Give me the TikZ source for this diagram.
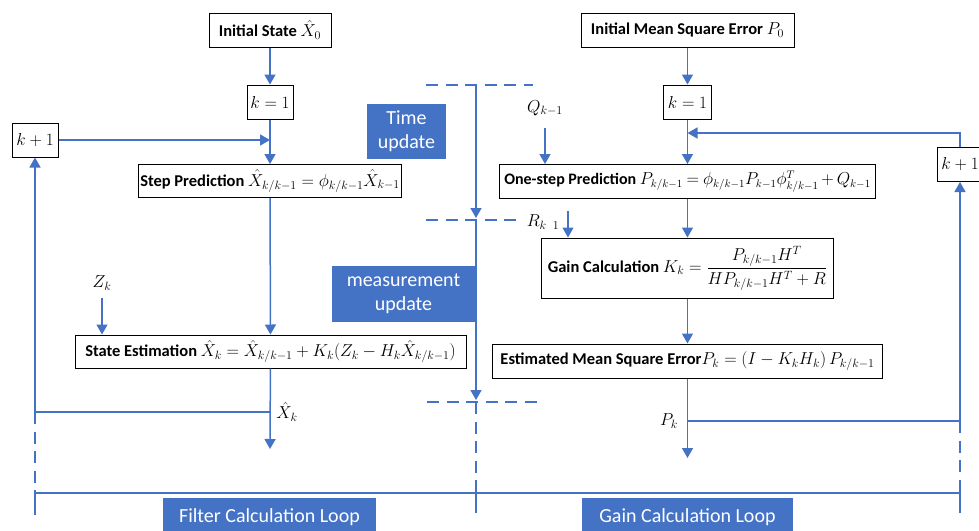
\documentclass[tikz,border=0pt]{standalone}
\usepackage{fontspec}
\newfontfamily\calfont{Carlito}
\usetikzlibrary{arrows.meta}
\definecolor{lblue}{HTML}{4472C4}
\newcommand\mth[2][17]{{\fontsize{#1}{#1}\selectfont$#2$}}
\tikzset{
  box/.style={draw=black, line width=1pt, fill=white, inner sep=0pt, minimum height=34pt,
    font=\calfont\bfseries\fontsize{16.5}{19}\selectfont},
  blueb/.style={fill=lblue, text=white, inner sep=0pt, align=center,
    font=\calfont\fontsize{20}{24}\selectfont},
  lab/.style={inner sep=0pt, font=\fontsize{17}{19}\selectfont},
  conn/.style={draw=lblue, line width=1.5pt},
  arr/.style={conn, -{Triangle[width=11pt,length=10pt]}},
  dsh/.style={conn, dash pattern=on 12pt off 7.5pt},
}
\begin{document}
\begin{tikzpicture}[x=1pt,y=-1pt]
\useasboundingbox (0,0) rectangle (979,530);
% coordinates
\coordinate (jL) at (270,140);
\coordinate (jX) at (270,412);
\coordinate (cL) at (35,412);
\coordinate (endL) at (270,449);
\coordinate (zs) at (102,298);
\coordinate (jR) at (687.5,133);
\coordinate (jP) at (687.5,421);
\coordinate (cR) at (960,421);
\coordinate (endR) at (687.5,458);
\coordinate (qs) at (545,128);
\coordinate (rs) at (568,211);
\coordinate (bl) at (35,493);
\coordinate (bm) at (476,493);
\coordinate (br) at (960,493);
\coordinate (blt) at (35,515);
\coordinate (bmt) at (476,483);
\coordinate (bmb) at (476,513);
\coordinate (brt) at (960,483);
\coordinate (brb) at (960,513);
\coordinate (m1) at (476,85);
\coordinate (m1a) at (426,85);
\coordinate (m1b) at (533,85);
\coordinate (m2) at (476,220);
\coordinate (m2t) at (476,218);
\coordinate (m2a) at (426,220);
\coordinate (m2b) at (520,220);
\coordinate (m3) at (476,402);
\coordinate (m3t) at (476,400);
\coordinate (m3a) at (427,402);
\coordinate (m3b) at (540,402);

% blue label boxes
\node[blueb, minimum width=79pt, minimum height=55pt] (tu) at (406.5,131.5) {Time\\update};
\node[blueb, minimum width=144pt, minimum height=56pt] (mu) at (403.5,294) {measurement\\update};
\node[blueb, minimum width=213pt, minimum height=38pt] (fl) at (269.5,517) {Filter Calculation Loop};
\node[blueb, minimum width=211pt, minimum height=38pt] (gl) at (687.5,517) {Gain Calculation Loop};

% left column
\node[box, minimum width=122pt] (init) at (270,30) {Initial State \mth[18]{\hat{X}_0}};
\node[box, minimum width=46pt] (k1L) at (270,102) {\mth[17]{k=1}};
\node[box, minimum width=46pt] (kpL) at (35,140) {\mth[17]{k+1}};
\node[box, minimum width=263pt, minimum height=33pt] (step) at (270,181) {Step Prediction \mth{\hat{X}_{k/k-1}=\phi_{k/k-1}\hat{X}_{k-1}}};
\node[box, minimum width=391pt, minimum height=33pt] (state) at (270.5,351.5) {State Estimation \mth{\hat{X}_k=\hat{X}_{k/k-1}+K_k(Z_k-H_k\hat{X}_{k/k-1})}};
\node[lab] (Zk) at (102,283) {$Z_k$};
\node[lab] (Xk) at (287,412) {$\hat{X}_k$};

% right column
\node[box, minimum width=213pt] (initP) at (687.5,30) {Initial Mean Square Error \mth[18]{P_0}};
\node[box, minimum width=48pt] (k1R) at (687.5,102) {\mth[17]{k=1}};
\node[box, minimum width=46pt] (kpR) at (960,164.5) {\mth[17]{k+1}};
\node[box, minimum width=376pt, font=\calfont\bfseries\fontsize{16}{19}\selectfont] (one) at (687.5,181.5) {One-step Prediction \mth[16]{\thickmuskip=4mu\medmuskip=3mu P_{k/k-1}=\phi_{k/k-1}P_{k-1}\phi^T_{k/k-1}+Q_{k-1}}};
\node[box, minimum width=292pt, minimum height=60pt] (gain) at (687.5,268) {Gain Calculation \mth{K_k={\displaystyle\frac{P_{k/k-1}H^T}{HP_{k/k-1}H^T+R}}}};
\node[box, minimum width=390pt] (est) at (687.5,361) {Estimated Mean Square Error\mth{P_k=\left(I-K_kH_k\right)P_{k/k-1}}};
\node[lab] (Qk) at (545,108) {$Q_{k-1}$};
\node[lab] (Rk) at (543,222) {$R_{k\;\;1}$};
\node[lab] (Pk) at (669,421) {$P_k$};

% left connectors
\draw[arr] (init) -- (k1L);
\draw[arr] (k1L) -- (step);
\draw[arr] (kpL) -- (jL);
\draw[arr] (step) -- (state);
\draw[arr] (zs) -- (zs |- state.north);
\draw[arr] (state) -- (endL);
\draw[arr] (jX) -| (kpL);
\draw[dsh] (cL) -- (bl);

% right connectors
\draw[arr] (initP) -- (k1R);
\draw[arr] (k1R) -- (one);
\draw[arr] (kpR) |- (jR);
\draw[arr] (qs) -- (qs |- one.north);
\draw[arr] (one) -- (gain);
\draw[arr] (rs) -- (rs |- gain.north);
\draw[arr] (gain) -- (est);
\draw[arr] (est) -- (endR);
\draw[arr] (jP) -| (kpR);
\draw[dsh] (cR) -- (br);

% middle divider
\draw[dsh] (m1a) -- (m1b);
\draw[arr] (m1) -- (m2t);
\draw[dsh] (m2a) -- (m2b);
\draw[arr] (m2) -- (m3t);
\draw[dsh] (m3a) -- (m3b);
\draw[dsh] (m3) -- (bm);

% bottom bracket
\draw[conn] (bl) -- (br);
\draw[conn] (bl) -- (blt);
\draw[conn] (bmt) -- (bmb);
\draw[conn] (brt) -- (brb);
\end{tikzpicture}
\end{document}
